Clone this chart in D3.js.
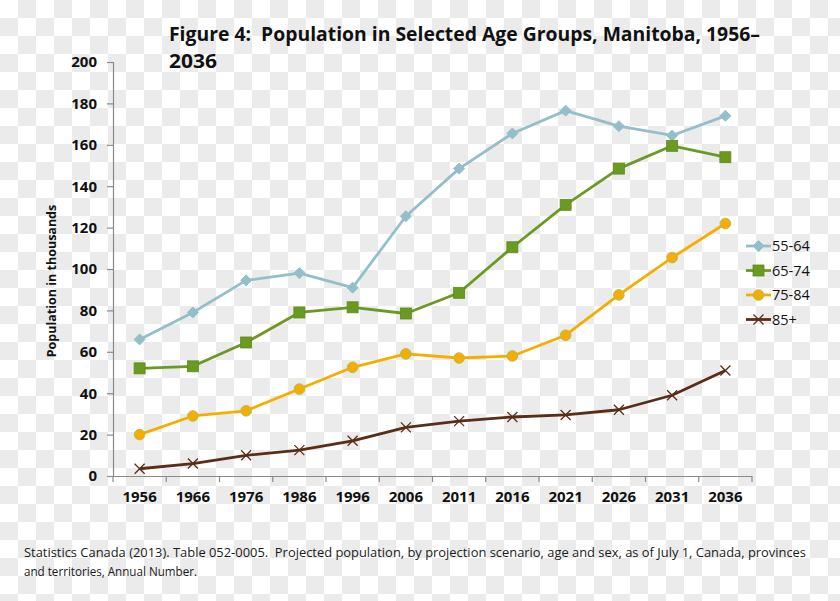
<!DOCTYPE html>
<html><head><meta charset="utf-8">
<script src="https://cdn.jsdelivr.net/npm/d3@7"></script>
<style>body{margin:0;padding:0;overflow:hidden}svg{display:block}</style>
</head><body>
<svg id="c" width="840" height="601"></svg>
<script>
const years = ["1956","1966","1976","1986","1996","2006","2011","2016","2021","2026","2031","2036"];
const s55_64 = [66,79,94.5,98,91,125.5,148.5,165.5,176.5,169,164.5,174];
const s65_74 = [52,53,64.5,79,81.5,78.5,88.5,110.5,131,148.5,159.5,154];
const s75_84 = [20,29,31.5,42,52.5,59,57,58,68,87.5,105.5,122];
const s85p = [3.5,6,10,12.5,17,23.5,26.5,28.5,29.5,32,39,51];
const seriesNames = ["55-64","65-74","75-84","85+"];
const yTicks = [0,20,40,60,80,100,120,140,160,180,200];

const series = [
  {name:seriesNames[0], values:s55_64, color:"#94bfca", marker:"diamond"},
  {name:seriesNames[1], values:s65_74, color:"#6b9a22", marker:"square"},
  {name:seriesNames[2], values:s75_84, color:"#f4ae00", marker:"circle"},
  {name:seriesNames[3], values:s85p, color:"#5a2d18", marker:"x"}
];

const svg = d3.select("#c");
// checkerboard background
const defs = svg.append("defs");
const pat = defs.append("pattern").attr("id","chk").attr("patternUnits","userSpaceOnUse")
  .attr("width",36).attr("height",36);
pat.append("rect").attr("width",36).attr("height",36).attr("fill","#ffffff");
pat.append("rect").attr("x",18).attr("y",0).attr("width",18).attr("height",18).attr("fill","#ebebeb");
pat.append("rect").attr("x",0).attr("y",18).attr("width",18).attr("height",18).attr("fill","#ebebeb");
svg.append("rect").attr("width",840).attr("height",601).attr("fill","url(#chk)");

const mLeft = 113, mRight = 752, mTop = 62, mBottom = 476;
const x = d3.scaleBand().domain(years).range([mLeft, mRight]);
const y = d3.scaleLinear().domain([0,200]).range([mBottom, mTop]);
const font = "'Open Sans', 'Noto Sans', sans-serif";

// title
const title = svg.append("text").attr("font-family",font).attr("font-weight","bold")
  .attr("font-size",20).attr("fill","#111");
title.append("tspan").attr("x",169).attr("y",41).text("Figure 4:\u00a0 Population in Selected Age Groups, Manitoba, 1956–")
  .attr("textLength",591).attr("lengthAdjust","spacingAndGlyphs");
title.append("tspan").attr("x",169).attr("y",68).text("2036")
  .attr("textLength",48).attr("lengthAdjust","spacingAndGlyphs");

// y axis
const yAxis = d3.axisLeft(y).tickValues(yTicks).tickSize(6).tickPadding(10);
const gy = svg.append("g").attr("transform",`translate(${mLeft},0)`).call(yAxis);
gy.select(".domain").attr("stroke","#8a8a8a").attr("stroke-width",1.2);
gy.selectAll(".tick line").attr("stroke","#8a8a8a").attr("stroke-width",1.2);
gy.selectAll(".tick text").attr("font-family",font).attr("font-weight","bold")
  .attr("font-size",15).attr("fill","#111");

// x axis
const xAxis = d3.axisBottom(x).tickSize(0).tickPadding(15);
const gx = svg.append("g").attr("transform",`translate(0,${mBottom})`).call(xAxis);
gx.select(".domain").attr("stroke","#8a8a8a").attr("stroke-width",1.2).attr("d",`M${mLeft},0.5H${mRight}`);
gx.selectAll(".tick text").attr("font-family",font).attr("font-weight","bold")
  .attr("font-size",15).attr("fill","#111");
// category boundary ticks
const bounds = years.map(d => x(d)).concat([mRight]);
gx.selectAll("line.bt").data(bounds).enter().append("line").attr("class","bt")
  .attr("x1",d=>d).attr("x2",d=>d).attr("y1",0).attr("y2",6)
  .attr("stroke","#8a8a8a").attr("stroke-width",1.2);

// y label
svg.append("text").attr("transform","translate(56,281) rotate(-90)").attr("text-anchor","middle")
  .attr("font-family",font).attr("font-weight","bold").attr("font-size",12.5).attr("fill","#111")
  .text("Population in thousands");

const cx = d => x(d) + x.bandwidth()/2;
const line = d3.line().x((v,i)=>cx(years[i])).y(v=>y(v));

function drawMarker(g, type, color, px, py) {
  if (type === "diamond") {
    g.append("path").attr("d",`M${px},${py-5.5}L${px+5.5},${py}L${px},${py+5.5}L${px-5.5},${py}Z`)
      .attr("fill",color).attr("stroke",color);
  } else if (type === "square") {
    g.append("rect").attr("x",px-5.5).attr("y",py-5.5).attr("width",11).attr("height",11)
      .attr("fill",color).attr("stroke","#5e8a1c").attr("stroke-width",0.8);
  } else if (type === "circle") {
    g.append("circle").attr("cx",px).attr("cy",py).attr("r",5.3)
      .attr("fill",color).attr("stroke","#b9bb55").attr("stroke-width",1);
  } else {
    g.append("path").attr("d",`M${px-5},${py-5}L${px+5},${py+5}M${px-5},${py+5}L${px+5},${py-5}`)
      .attr("stroke",color).attr("stroke-width",1.3).attr("fill","none");
  }
}

series.forEach(s => {
  const g = svg.append("g");
  g.append("path").datum(s.values).attr("d",line).attr("fill","none")
    .attr("stroke",s.color).attr("stroke-width",2.8).attr("stroke-linejoin","round");
  s.values.forEach((v,i)=> drawMarker(g, s.marker, s.color, cx(years[i]), y(v)));
});

// legend
const lg = svg.append("g");
series.forEach((s,i) => {
  const ly = 246 + i*24.5;
  lg.append("line").attr("x1",746).attr("x2",771).attr("y1",ly).attr("y2",ly)
    .attr("stroke",s.color).attr("stroke-width",2.8);
  drawMarker(lg, s.marker, s.color, 758.5, ly);
  lg.append("text").attr("x",772).attr("y",ly+5).attr("font-family",font)
    .attr("font-size",14.5).attr("fill","#111").text(s.name);
});

// source
const src = svg.append("text").attr("font-family",font).attr("font-size",13).attr("fill","#1a1a1a");
src.append("tspan").attr("x",24).attr("y",557)
  .text("Statistics Canada (2013). Table 052-0005.\u00a0 Projected population, by projection scenario, age and sex, as of July 1, Canada, provinces")
  .attr("textLength",782).attr("lengthAdjust","spacingAndGlyphs");
src.append("tspan").attr("x",24).attr("y",576).text("and territories, Annual Number.")
  .attr("textLength",173).attr("lengthAdjust","spacingAndGlyphs");
</script>
</body></html>
